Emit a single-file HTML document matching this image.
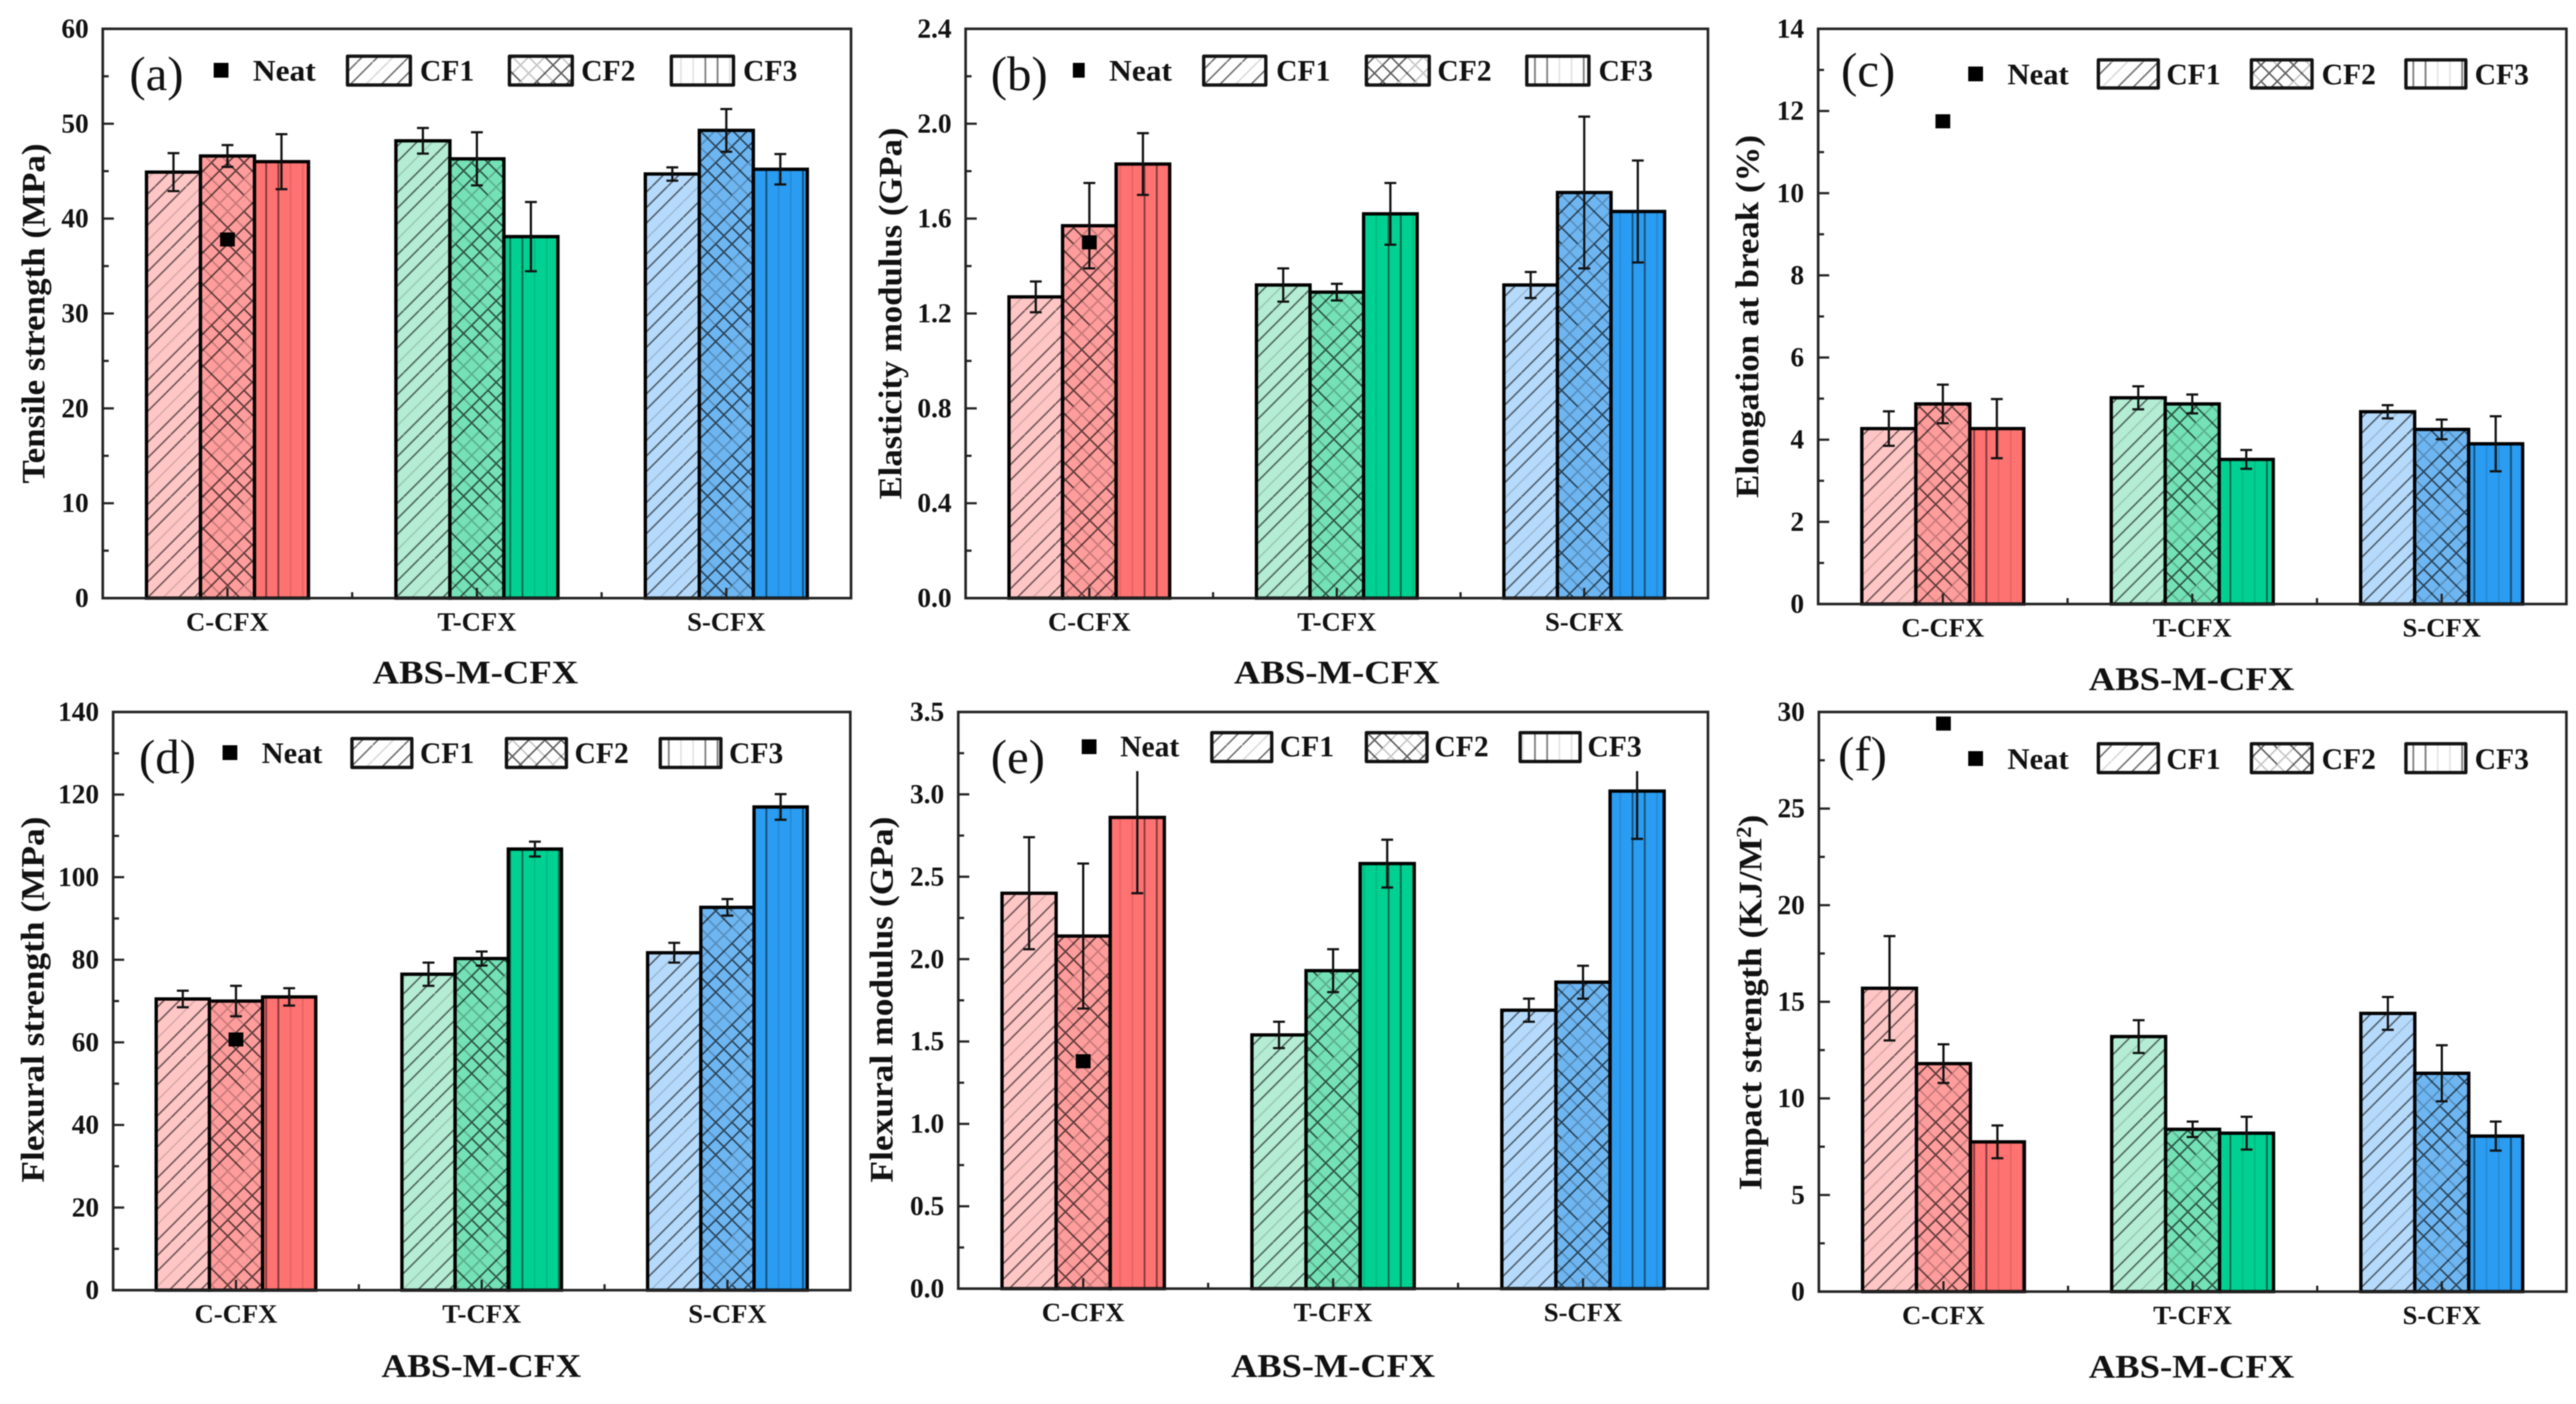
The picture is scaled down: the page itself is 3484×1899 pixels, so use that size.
<!DOCTYPE html>
<html lang="en">
<head>
<meta charset="utf-8">
<title>ABS-M-CFX mechanical properties</title>
<style>
html,body{margin:0;padding:0;background:#fff;width:3484px;height:1899px;overflow:hidden}
svg{display:block;filter:blur(0.7px)}
text{font-family:"Liberation Serif",serif;fill:#111;font-weight:bold}
.lab{font-weight:normal;font-size:66px}
.leg{font-size:40px}
.ttl{font-size:44px;text-anchor:middle}
.swatch{stroke:#111;stroke-width:4.5;stroke-linejoin:round}
</style>
</head>
<body>
<svg id="figure" xmlns="http://www.w3.org/2000/svg" width="3484" height="1899" viewBox="0 0 3484 1899">
<defs>
<pattern id="hatch-diagonal" patternUnits="userSpaceOnUse" width="84" height="84">
  <path d="M21 0L0 21M84 21L21 84" stroke="#000" stroke-opacity=".14" stroke-width="2.2" fill="none"/>
  <path d="M42 0L0 42M84 42L42 84M63 0L0 63M84 63L63 84M84 0L0 84" stroke="#000" stroke-opacity=".55" stroke-width="2.2" fill="none"/>
</pattern>
<pattern id="hatch-cross" patternUnits="userSpaceOnUse" width="110" height="110">
  <path d="M22 0L0 22M110 22L22 110M44 0L0 44M110 44L44 110M22 0L110 88M0 22L88 110M44 0L110 66M0 44L66 110" stroke="#000" stroke-opacity=".22" stroke-width="2.2" fill="none"/>
  <path d="M66 0L0 66M110 66L66 110M88 0L0 88M110 88L88 110M110 0L0 110M66 0L110 44M0 66L44 110M88 0L110 22M0 88L22 110M0 0L110 110" stroke="#000" stroke-opacity=".62" stroke-width="2.2" fill="none"/>
</pattern>
<pattern id="hatch-vertical" patternUnits="userSpaceOnUse" width="66" height="20">
  <path d="M30 0V20M46.5 0V20" stroke="#000" stroke-opacity=".5" stroke-width="2.4" fill="none"/>
  <path d="M63 0V20M13.5 0V20" stroke="#000" stroke-opacity=".1" stroke-width="2.4" fill="none"/>
</pattern>
</defs>

<g>
  <g id="marks-a"></g>
  <text class="ttl" transform="translate(60,424) rotate(-90)" textLength="460" lengthAdjust="spacingAndGlyphs">Tensile strength (MPa)</text>
  <text class="ttl" x="643" y="924" textLength="278" lengthAdjust="spacingAndGlyphs">ABS-M-CFX</text>
  <text class="lab" x="175" y="122">(a)</text>
  <g>
    <rect x="289" y="85" width="20" height="20" fill="#000"/>
    <text class="leg" x="342" y="109" textLength="85" lengthAdjust="spacingAndGlyphs">Neat</text>
    <rect class="swatch" x="470" y="76" width="85" height="39" fill="url(#hatch-diagonal)"/>
    <text class="leg" x="568" y="109">CF1</text>
    <rect class="swatch" x="689" y="76" width="85" height="39" fill="url(#hatch-cross)"/>
    <text class="leg" x="786" y="109">CF2</text>
    <rect class="swatch" x="908" y="76" width="84" height="39" fill="url(#hatch-vertical)"/>
    <text class="leg" x="1005" y="109">CF3</text>
  </g>
</g>

<g>
  <g id="marks-b"></g>
  <text class="ttl" transform="translate(1219,424) rotate(-90)" textLength="503" lengthAdjust="spacingAndGlyphs">Elasticity modulus (GPa)</text>
  <text class="ttl" x="1808" y="924" textLength="278" lengthAdjust="spacingAndGlyphs">ABS-M-CFX</text>
  <text class="lab" x="1340" y="122">(b)</text>
  <g>
    <rect x="1451" y="85" width="16" height="20" fill="#000"/>
    <text class="leg" x="1500" y="109" textLength="85" lengthAdjust="spacingAndGlyphs">Neat</text>
    <rect class="swatch" x="1628" y="76" width="84" height="39" fill="url(#hatch-diagonal)"/>
    <text class="leg" x="1726" y="109">CF1</text>
    <rect class="swatch" x="1848" y="76" width="85" height="39" fill="url(#hatch-cross)"/>
    <text class="leg" x="1944" y="109">CF2</text>
    <rect class="swatch" x="2065" y="76" width="84" height="39" fill="url(#hatch-vertical)"/>
    <text class="leg" x="2162" y="109">CF3</text>
  </g>
</g>

<g>
  <g id="marks-c"></g>
  <text class="ttl" transform="translate(2378,428) rotate(-90)" textLength="491" lengthAdjust="spacingAndGlyphs">Elongation at break (%)</text>
  <text class="ttl" x="2964" y="933" textLength="278" lengthAdjust="spacingAndGlyphs">ABS-M-CFX</text>
  <text class="lab" x="2490" y="117">(c)</text>
  <g>
    <rect x="2662" y="90" width="20" height="20" fill="#000"/>
    <text class="leg" x="2715" y="114" textLength="83" lengthAdjust="spacingAndGlyphs">Neat</text>
    <rect class="swatch" x="2838" y="81" width="81" height="38" fill="url(#hatch-diagonal)"/>
    <text class="leg" x="2930" y="114">CF1</text>
    <rect class="swatch" x="3045" y="81" width="82" height="38" fill="url(#hatch-cross)"/>
    <text class="leg" x="3140" y="114">CF2</text>
    <rect class="swatch" x="3254" y="81" width="81" height="38" fill="url(#hatch-vertical)"/>
    <text class="leg" x="3347" y="114">CF3</text>
  </g>
</g>

<g>
  <g id="marks-d"></g>
  <text class="ttl" transform="translate(59,1352) rotate(-90)" textLength="495" lengthAdjust="spacingAndGlyphs">Flexural strength (MPa)</text>
  <text class="ttl" x="651" y="1862" textLength="270" lengthAdjust="spacingAndGlyphs">ABS-M-CFX</text>
  <text class="lab" x="188" y="1046">(d)</text>
  <g>
    <rect x="301" y="1008" width="20" height="20" fill="#000"/>
    <text class="leg" x="354" y="1032" textLength="82" lengthAdjust="spacingAndGlyphs">Neat</text>
    <rect class="swatch" x="476" y="999" width="81" height="39" fill="url(#hatch-diagonal)"/>
    <text class="leg" x="568" y="1032">CF1</text>
    <rect class="swatch" x="685" y="999" width="81" height="39" fill="url(#hatch-cross)"/>
    <text class="leg" x="777" y="1032">CF2</text>
    <rect class="swatch" x="893" y="999" width="82" height="39" fill="url(#hatch-vertical)"/>
    <text class="leg" x="986" y="1032">CF3</text>
  </g>
</g>

<g>
  <g id="marks-e"></g>
  <text class="ttl" transform="translate(1207,1352) rotate(-90)" textLength="495" lengthAdjust="spacingAndGlyphs">Flexural modulus (GPa)</text>
  <text class="ttl" x="1803" y="1862" textLength="276" lengthAdjust="spacingAndGlyphs">ABS-M-CFX</text>
  <text class="lab" x="1340" y="1046">(e)</text>
  <g>
    <rect x="1445" y="970" width="860" height="73" fill="#fff"/>
    <rect x="1463" y="1000" width="20" height="20" fill="#000"/>
    <text class="leg" x="1515" y="1023" textLength="80" lengthAdjust="spacingAndGlyphs">Neat</text>
    <rect class="swatch" x="1639" y="991" width="81" height="39" fill="url(#hatch-diagonal)"/>
    <text class="leg" x="1731" y="1023">CF1</text>
    <rect class="swatch" x="1848" y="991" width="82" height="39" fill="url(#hatch-cross)"/>
    <text class="leg" x="1940" y="1023">CF2</text>
    <rect class="swatch" x="2056" y="991" width="81" height="39" fill="url(#hatch-vertical)"/>
    <text class="leg" x="2147" y="1023">CF3</text>
  </g>
</g>

<g>
  <g id="marks-f"></g>
  <text class="ttl" transform="translate(2382,1356) rotate(-90)" textLength="508" lengthAdjust="spacingAndGlyphs">Impact strength (KJ/M<tspan dy="-14" font-size="28">2</tspan><tspan dy="14">)</tspan></text>
  <text class="ttl" x="2964" y="1863" textLength="278" lengthAdjust="spacingAndGlyphs">ABS-M-CFX</text>
  <text class="lab" x="2486" y="1042">(f)</text>
  <g>
    <rect x="2662" y="1016" width="20" height="20" fill="#000"/>
    <text class="leg" x="2715" y="1040" textLength="83" lengthAdjust="spacingAndGlyphs">Neat</text>
    <rect class="swatch" x="2838" y="1006" width="81" height="39" fill="url(#hatch-diagonal)"/>
    <text class="leg" x="2930" y="1040">CF1</text>
    <rect class="swatch" x="3045" y="1006" width="82" height="39" fill="url(#hatch-cross)"/>
    <text class="leg" x="3140" y="1040">CF2</text>
    <rect class="swatch" x="3254" y="1006" width="81" height="39" fill="url(#hatch-vertical)"/>
    <text class="leg" x="3347" y="1040">CF3</text>
  </g>
</g>
</svg>

<script>
const categories = ['C-CFX', 'T-CFX', 'S-CFX'];
const seriesNames = ['CF1', 'CF2', 'CF3'];

const tensileTicks = ['0', '10', '20', '30', '40', '50', '60'];
const tensileCF1 = [44.9, 48.2, 44.7];
const tensileCF2 = [46.6, 46.3, 49.3];
const tensileCF3 = [46.0, 38.1, 45.2];
const tensileErrCF1 = [2.0, 1.35, 0.7];
const tensileErrCF2 = [1.15, 2.8, 2.25];
const tensileErrCF3 = [2.9, 3.65, 1.6];
const tensileNeat = 37.8;

const elasticTicks = ['0.0', '0.4', '0.8', '1.2', '1.6', '2.0', '2.4'];
const elasticCF1 = [1.27, 1.32, 1.32];
const elasticCF2 = [1.57, 1.29, 1.71];
const elasticCF3 = [1.83, 1.62, 1.63];
const elasticErrCF1 = [0.065, 0.07, 0.055];
const elasticErrCF2 = [0.18, 0.035, 0.32];
const elasticErrCF3 = [0.13, 0.13, 0.215];
const elasticNeat = 1.5;

const elongationTicks = ['0', '2', '4', '6', '8', '10', '12', '14'];
const elongationCF1 = [4.27, 5.02, 4.68];
const elongationCF2 = [4.87, 4.87, 4.25];
const elongationCF3 = [4.27, 3.52, 3.9];
const elongationErrCF1 = [0.42, 0.28, 0.16];
const elongationErrCF2 = [0.47, 0.23, 0.24];
const elongationErrCF3 = [0.72, 0.23, 0.67];
const elongationNeat = 11.75;

const flexStrengthTicks = ['0', '20', '40', '60', '80', '100', '120', '140'];
const flexStrengthCF1 = [70.5, 76.5, 81.7];
const flexStrengthCF2 = [70.0, 80.3, 92.7];
const flexStrengthCF3 = [71.0, 106.8, 117.0];
const flexStrengthErrCF1 = [2.0, 2.8, 2.4];
const flexStrengthErrCF2 = [3.7, 1.7, 2.0];
const flexStrengthErrCF3 = [2.1, 1.8, 3.1];
const flexStrengthNeat = 60.7;

const flexModulusTicks = ['0.0', '0.5', '1.0', '1.5', '2.0', '2.5', '3.0', '3.5'];
const flexModulusCF1 = [2.4, 1.54, 1.69];
const flexModulusCF2 = [2.14, 1.93, 1.86];
const flexModulusCF3 = [2.86, 2.58, 3.02];
const flexModulusErrCF1 = [0.34, 0.08, 0.07];
const flexModulusErrCF2 = [0.44, 0.13, 0.1];
const flexModulusErrCF3 = [0.46, 0.145, 0.29];
const flexModulusNeat = 1.38;

const impactTicks = ['0', '5', '10', '15', '20', '25', '30'];
const impactCF1 = [15.7, 13.2, 14.4];
const impactCF2 = [11.8, 8.4, 11.3];
const impactCF3 = [7.75, 8.2, 8.05];
const impactErrCF1 = [2.7, 0.85, 0.85];
const impactErrCF2 = [1.0, 0.4, 1.45];
const impactErrCF3 = [0.85, 0.85, 0.75];
const impactNeat = 29.4;

const groupFills = [
  ['#FFC6C6', '#FF9C9C', '#FF7272'],
  ['#B4ECD4', '#74E1B6', '#00D192'],
  ['#B6DAFB', '#6EB6F1', '#2A9CF1']
];
const hatches = ['hatch-diagonal', 'hatch-cross', 'hatch-vertical'];

const panels = [
  {id: 'a', left: 139, right: 1151, top: 39, bottom: 809, ticks: tensileTicks,
   values: [tensileCF1, tensileCF2, tensileCF3], errors: [tensileErrCF1, tensileErrCF2, tensileErrCF3], neat: tensileNeat},
  {id: 'b', left: 1306, right: 2310, top: 39, bottom: 809, ticks: elasticTicks,
   values: [elasticCF1, elasticCF2, elasticCF3], errors: [elasticErrCF1, elasticErrCF2, elasticErrCF3], neat: elasticNeat},
  {id: 'c', left: 2459, right: 3471, top: 39, bottom: 817, ticks: elongationTicks,
   values: [elongationCF1, elongationCF2, elongationCF3], errors: [elongationErrCF1, elongationErrCF2, elongationErrCF3], neat: elongationNeat},
  {id: 'd', left: 153, right: 1150, top: 963, bottom: 1745, ticks: flexStrengthTicks,
   values: [flexStrengthCF1, flexStrengthCF2, flexStrengthCF3], errors: [flexStrengthErrCF1, flexStrengthErrCF2, flexStrengthErrCF3], neat: flexStrengthNeat},
  {id: 'e', left: 1296, right: 2310, top: 963, bottom: 1743, ticks: flexModulusTicks,
   values: [flexModulusCF1, flexModulusCF2, flexModulusCF3], errors: [flexModulusErrCF1, flexModulusErrCF2, flexModulusErrCF3], neat: flexModulusNeat},
  {id: 'f', left: 2460, right: 3471, top: 963, bottom: 1747, ticks: impactTicks,
   values: [impactCF1, impactCF2, impactCF3], errors: [impactErrCF1, impactErrCF2, impactErrCF3], neat: impactNeat}
];

const SVG_NS = 'http://www.w3.org/2000/svg';
const BAR_FRACTION = 0.2165;

function make(tag, attrs, parent) {
  const node = document.createElementNS(SVG_NS, tag);
  for (const key in attrs) node.setAttribute(key, attrs[key]);
  parent.appendChild(node);
  return node;
}

function yScale(panel, value) {
  const max = parseFloat(panel.ticks[panel.ticks.length - 1]);
  return panel.bottom - (value / max) * (panel.bottom - panel.top);
}

function bandWidth(panel) {
  return (panel.right - panel.left) / categories.length;
}

function groupCenter(panel, group) {
  return panel.left + (group + 0.5) * bandWidth(panel);
}

function barLeft(panel, group, series) {
  const w = bandWidth(panel) * BAR_FRACTION;
  return groupCenter(panel, group) + (series - seriesNames.length / 2) * w;
}

function drawPanel(panel) {
  const root = document.getElementById('marks-' + panel.id);
  const barW = bandWidth(panel) * BAR_FRACTION;

  categories.forEach(function (cat, g) {
    seriesNames.forEach(function (name, s) {
      const x = barLeft(panel, g, s);
      const y = yScale(panel, panel.values[s][g]);
      const h = panel.bottom - y;
      const bar = make('rect', {x: x, y: y, width: barW, height: h, fill: groupFills[g][s], stroke: '#000', 'stroke-width': 4.5}, root);
      
      
      const hatch = make('rect', {x: x + 2, y: y + 2, width: barW - 4, height: h - 2, fill: 'url(#' + hatches[s] + ')'}, root);
      
      
    });
  });

  categories.forEach(function (cat, g) {
    seriesNames.forEach(function (name, s) {
      const cx = barLeft(panel, g, s) + barW / 2;
      const v = panel.values[s][g];
      const e = panel.errors[s][g];
      const yHi = yScale(panel, v + e);
      const yLo = yScale(panel, v - e);
      const err = make('path', {d: 'M' + (cx - 8) + ' ' + yHi + 'H' + (cx + 8) + 'M' + cx + ' ' + yHi + 'V' + yLo + 'M' + (cx - 8) + ' ' + yLo + 'H' + (cx + 8), fill: 'none', stroke: '#111', 'stroke-width': 3}, root);
      
      
    });
  });

  const neatY = yScale(panel, panel.neat);
  const neat = make('rect', {x: groupCenter(panel, 0) - 10, y: neatY - 9.5, width: 20, height: 19, fill: '#000'}, root);
  
  

  const frame = make('rect', {x: panel.left, y: panel.top, width: panel.right - panel.left, height: panel.bottom - panel.top, fill: 'none', stroke: '#222', 'stroke-width': 3.5}, root);
  
  

  panel.ticks.forEach(function (label, i) {
    const v = parseFloat(label);
    const y = yScale(panel, v);
    const tick = make('line', {x1: panel.left, x2: panel.left + 15, y1: y, y2: y, stroke: '#222', 'stroke-width': 3}, root);
    
    
    const text = make('text', {x: panel.left - 19, y: y + 12, 'text-anchor': 'end', 'font-size': 37}, root);
    text.textContent = label;
    
    
    if (i < panel.ticks.length - 1) {
      const next = parseFloat(panel.ticks[i + 1]);
      const ym = yScale(panel, (v + next) / 2);
      const minor = make('line', {x1: panel.left, x2: panel.left + 8, y1: ym, y2: ym, stroke: '#222', 'stroke-width': 3}, root);
      
      
    }
  });

  categories.forEach(function (cat, g) {
    const cx = groupCenter(panel, g);
    const tick = make('line', {x1: cx, x2: cx, y1: panel.bottom, y2: panel.bottom - 14, stroke: '#222', 'stroke-width': 3}, root);
    
    
    const text = make('text', {x: cx, y: panel.bottom + 44, 'text-anchor': 'middle', 'font-size': 36}, root);
    text.textContent = cat;
    
    
    if (g > 0) {
      const xm = panel.left + g * bandWidth(panel);
      const minor = make('line', {x1: xm, x2: xm, y1: panel.bottom, y2: panel.bottom - 8, stroke: '#222', 'stroke-width': 3}, root);
      
      
    }
  });
}

panels.forEach(drawPanel);
</script>
</body>
</html>
